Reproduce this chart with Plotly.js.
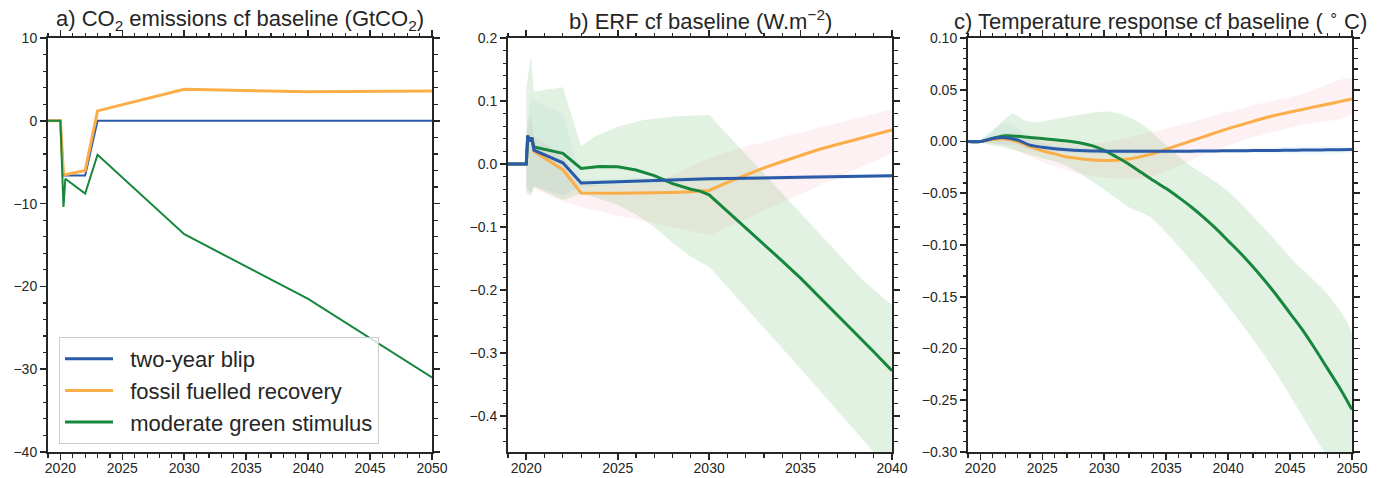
<!DOCTYPE html>
<html>
<head>
<meta charset="utf-8">
<script src="https://cdn.plot.ly/plotly-3.0.1.min.js"></script>
<style>html,body{margin:0;padding:0;background:#fff;}#chart{width:1388px;height:478px;}</style>
</head>
<body>
<div id="chart"></div>
<script>
// ---------- names ----------
const seriesNames = ["two-year blip", "fossil fuelled recovery", "moderate green stimulus"];
const panelTitles = [
  "a) CO<sub>2</sub> emissions cf baseline (GtCO<sub>2</sub>)",
  "b) ERF cf baseline (W.m<sup>−2</sup>)",
  "c) Temperature response cf baseline ( <sup>∘</sup> C)"
];

// ---------- panel a: CO2 emissions ----------
const aYears = [2019, 2020, 2020.25, 2020.4, 2022, 2023, 2030, 2040, 2050];
const aBlip   = [0, 0, -6.6, -6.6, -6.6, 0, 0, 0, 0];
const aFossil = [0, 0, -6.4, -6.5, -6.0, 1.2, 3.8, 3.5, 3.6];
const aGreen  = [0, 0, -10.4, -7.0, -8.8, -4.1, -13.7, -21.5, -31.0];

// ---------- panel b: ERF ----------
const bBlipYears = [2019, 2020, 2020.08, 2020.2, 2020.3, 2020.42, 2022, 2023, 2025, 2030, 2035, 2040];
const bBlip      = [0, 0, 0.045, 0.036, 0.042, 0.022, 0.002, -0.030, -0.028, -0.0235, -0.021, -0.0185];
const bFossilYears = [2019, 2020, 2020.08, 2020.2, 2020.3, 2020.42, 2022, 2023, 2025, 2027, 2028, 2029, 2030, 2031, 2032, 2033, 2034, 2035, 2036, 2037, 2038, 2039, 2040];
const bFossil      = [0, 0, 0.045, 0.036, 0.042, 0.020, -0.009, -0.046, -0.0465, -0.046, -0.045, -0.044, -0.042, -0.029, -0.017, -0.006, 0.004, 0.014, 0.023, 0.031, 0.039, 0.047, 0.054];
const bGreenYears = [2019, 2020, 2020.08, 2020.2, 2020.3, 2020.42, 2022, 2023, 2024, 2025, 2026, 2027, 2028, 2029, 2029.5, 2030, 2031, 2032, 2033, 2034, 2035, 2036, 2037, 2038, 2039, 2040];
const bGreen      = [0, 0, 0.045, 0.036, 0.042, 0.027, 0.017, -0.007, -0.004, -0.0045, -0.0095, -0.0185, -0.031, -0.040, -0.043, -0.049, -0.075, -0.101, -0.127, -0.154, -0.181, -0.210, -0.239, -0.268, -0.298, -0.328];

const bGreenUpYears = [2020, 2020.25, 2020.42, 2022, 2023, 2023.7, 2025, 2026.4, 2028.2, 2030, 2038.4, 2040];
const bGreenUp      = [0.12, 0.173, 0.115, 0.122, 0.0285, 0.043, 0.059, 0.070, 0.076, 0.078, -0.184, -0.224];
const bGreenLoYears = [2020, 2020.25, 2020.42, 2022, 2023, 2024, 2025, 2026, 2027, 2028, 2029, 2030, 2035, 2040];
const bGreenLo      = [-0.045, -0.05, -0.036, -0.057, -0.047, -0.055, -0.065, -0.080, -0.100, -0.125, -0.147, -0.163, -0.325, -0.49];
const bFossilBandYears = [2020, 2020.25, 2020.42, 2022, 2023, 2025, 2027, 2030, 2032, 2035, 2038, 2040];
const bFossilUp = [0.05, 0.08, 0.045, 0.012, -0.032, -0.034, -0.03, 0.009, 0.028, 0.05, 0.072, 0.087];
const bFossilLo = [-0.035, -0.05, -0.039, -0.06, -0.068, -0.082, -0.094, -0.113, -0.087, -0.048, -0.009, 0.017];
const bBlipBandYears = [2020, 2020.25, 2020.42, 2022, 2023, 2030, 2040];
const bBlipUp = [0.05, 0.105, 0.1, 0.08, -0.024, -0.020, -0.015];
const bBlipLo = [-0.04, -0.045, -0.035, -0.05, -0.036, -0.027, -0.022];

// ---------- panel c: temperature ----------
const cYears = [2019, 2020, 2021, 2022, 2023, 2024, 2025, 2026, 2027, 2028, 2029, 2030, 2031, 2032, 2033, 2034, 2035, 2036, 2037, 2038, 2039, 2040, 2041, 2042, 2043, 2044, 2045, 2046, 2047, 2048, 2049, 2050];
const cBlip   = [0, 0, 0.003, 0.0037, 0.0015, -0.0035, -0.0055, -0.007, -0.008, -0.0087, -0.0091, -0.0093, -0.0095, -0.0095, -0.0095, -0.0095, -0.0095, -0.0094, -0.0093, -0.0092, -0.0091, -0.009, -0.0089, -0.0088, -0.0087, -0.0086, -0.0085, -0.0083, -0.0082, -0.008, -0.0079, -0.0078];
const cFossil = [0, 0, 0.002, 0.0025, 0, -0.005, -0.009, -0.012, -0.015, -0.0165, -0.0178, -0.0183, -0.018, -0.017, -0.0145, -0.0115, -0.0075, -0.0035, 0.0005, 0.0045, 0.0085, 0.0125, 0.016, 0.0195, 0.023, 0.0258, 0.0285, 0.031, 0.0335, 0.036, 0.0385, 0.041];
const cGreen  = [0, 0, 0.003, 0.0055, 0.005, 0.0038, 0.0028, 0.0018, 0.0005, -0.0012, -0.004, -0.0085, -0.015, -0.022, -0.030, -0.038, -0.0455, -0.054, -0.063, -0.073, -0.084, -0.096, -0.108, -0.121, -0.135, -0.150, -0.166, -0.182, -0.200, -0.219, -0.238, -0.259];

const cGreenUpYears = [2020, 2021, 2022, 2022.6, 2023.5, 2024.2, 2026.9, 2029.5, 2030.3, 2031.7, 2033, 2033.7, 2036.4, 2039.9, 2042.6, 2045.5, 2048, 2050];
const cGreenUp      = [0, 0.01, 0.022, 0.0268, 0.021, 0.0187, 0.0235, 0.0284, 0.029, 0.0252, 0.017, 0.0106, -0.0184, -0.047, -0.0797, -0.118, -0.147, -0.186];
const cGreenLoYears = [2020, 2022, 2024.2, 2026.9, 2029.5, 2032.2, 2033.7, 2037.5, 2040.5, 2043.4, 2047.7, 2050];
const cGreenLo      = [0, -0.006, -0.0136, -0.0232, -0.0426, -0.065, -0.073, -0.122, -0.167, -0.215, -0.299, -0.34];
const cFossilBandYears = [2020, 2022, 2025, 2028, 2030, 2033.7, 2038, 2042, 2046, 2050];
const cFossilUp = [0, 0.008, 0.002, -0.002, -0.001, 0.009, 0.022, 0.035, 0.046, 0.061];
const cFossilLo = [0, -0.004, -0.02, -0.031, -0.035, -0.034, -0.013, 0.004, 0.016, 0.027];
const cBlipBandYears = [2020, 2021, 2022, 2023, 2024, 2026, 2030, 2040, 2050];
const cBlipUp = [0, 0.012, 0.018, 0.013, 0.004, -0.004, -0.007, -0.007, -0.006];
const cBlipLo = [0, -0.002, -0.003, -0.004, -0.008, -0.010, -0.012, -0.011, -0.010];

// ---------- styling ----------
const COL = {blip: "#2a5aa8", fossil: "#fbad47", green: "#17873d"};
const FILL = {blip: "rgba(80,170,200,0.08)", fossil: "rgba(250,120,140,0.10)", green: "rgba(50,165,50,0.14)"};
const FONT = "Liberation Sans, Arial, Helvetica, sans-serif";
const TXT = "#262626";
const NB = "\u00a0\u00a0";

function band(xu, yu, xl, yl, fill, xa, ya, shape) {
  return {
    x: xu.concat(xl.slice().reverse()),
    y: yu.concat(yl.slice().reverse()),
    type: "scatter", mode: "lines", fill: "toself", fillcolor: fill,
    line: {width: 0, shape: shape || "linear", smoothing: 0.8}, hoverinfo: "skip", showlegend: false, xaxis: xa, yaxis: ya
  };
}
function line(x, y, color, width, xa, ya, name, show, rank, shape) {
  return {x: x, y: y, type: "scatter", mode: "lines", name: NB + name, showlegend: show,
          legendrank: rank, line: {color: color, width: width, shape: shape || "linear", smoothing: 0.8},
          xaxis: xa, yaxis: ya};
}

const traces = [
  // panel a
  line(aYears, aBlip, COL.blip, 2, "x", "y", seriesNames[0], false, 1),
  line(aYears, aFossil, COL.fossil, 3, "x", "y", seriesNames[1], false, 2),
  line(aYears, aGreen, COL.green, 2, "x", "y", seriesNames[2], false, 3),
  // panel b bands
  band(bFossilBandYears, bFossilUp, bFossilBandYears, bFossilLo, FILL.fossil, "x2", "y2"),
  band(bBlipBandYears, bBlipUp, bBlipBandYears, bBlipLo, FILL.blip, "x2", "y2"),
  band(bGreenUpYears, bGreenUp, bGreenLoYears, bGreenLo, FILL.green, "x2", "y2"),
  line(bFossilYears, bFossil, COL.fossil, 3, "x2", "y2", seriesNames[1], true, 2),
  line(bGreenYears, bGreen, COL.green, 3, "x2", "y2", seriesNames[2], true, 3),
  line(bBlipYears, bBlip, COL.blip, 3, "x2", "y2", seriesNames[0], true, 1),
  // panel c bands
  band(cFossilBandYears, cFossilUp, cFossilBandYears, cFossilLo, FILL.fossil, "x3", "y3", "spline"),
  band(cBlipBandYears, cBlipUp, cBlipBandYears, cBlipLo, FILL.blip, "x3", "y3", "spline"),
  band(cGreenUpYears, cGreenUp, cGreenLoYears, cGreenLo, FILL.green, "x3", "y3", "spline"),
  line(cYears, cFossil, COL.fossil, 3, "x3", "y3", seriesNames[1], false, 2, "spline"),
  line(cYears, cGreen, COL.green, 3, "x3", "y3", seriesNames[2], false, 3, "spline"),
  line(cYears, cBlip, COL.blip, 3, "x3", "y3", seriesNames[0], false, 1, "spline")
];

const W = 1388, H = 478;
const yDom = [(H - 452) / H, (H - 38) / H];
const doms = [[48 / W, 432 / W], [508 / W, 892 / W], [968 / W, 1352 / W]];

function xax(dom, range, anchor) {
  return {
    domain: dom, range: range, anchor: anchor,
    showline: true, linecolor: TXT, linewidth: 2, mirror: "allticks",
    ticks: "outside", ticklen: 6, tickwidth: 1.6, tickcolor: TXT,
    tick0: 2020, dtick: 5, showgrid: false, zeroline: false,
    ticklabelstandoff: -4,
    tickfont: {family: FONT, size: 14, color: TXT},
    minor: {ticks: "outside", ticklen: 3.5, tickwidth: 1.2, tickcolor: TXT, dtick: 1, tick0: 2020, showgrid: false}
  };
}
function yax(dom, range, anchor, dtick, mdtick, fmt) {
  return {
    domain: dom, range: range, anchor: anchor,
    showline: true, linecolor: TXT, linewidth: 2, mirror: "allticks",
    ticks: "outside", ticklen: 6, tickwidth: 1.6, tickcolor: TXT,
    tick0: 0, dtick: dtick, tickformat: fmt, showgrid: false, zeroline: false,
    tickfont: {family: FONT, size: 14, color: TXT},
    minor: {ticks: "outside", ticklen: 3.5, tickwidth: 1.2, tickcolor: TXT, dtick: mdtick, tick0: 0, showgrid: false}
  };
}

const annotations = panelTitles.map((t, i) => ({
  text: t, xref: "paper", yref: "paper",
  x: (doms[i][0] + doms[i][1]) / 2, y: yDom[1], xanchor: "center", yanchor: "bottom",
  yshift: 2, showarrow: false, font: {family: FONT, size: 22, color: TXT}
}));

const layout = {
  width: W, height: H,
  margin: {l: 0, r: 0, t: 0, b: 0},
  paper_bgcolor: "#fff", plot_bgcolor: "#fff",
  showlegend: true,
  font: {family: FONT, color: TXT},
  xaxis: xax(doms[0], [2019, 2050], "y"),
  yaxis: yax(yDom, [-40, 10], "x", 10, 2, "d"),
  xaxis2: xax(doms[1], [2019, 2040], "y2"),
  yaxis2: yax(yDom, [-0.457, 0.2], "x2", 0.1, 0.02, ".1f"),
  xaxis3: xax(doms[2], [2019, 2050], "y3"),
  yaxis3: yax(yDom, [-0.3, 0.1], "x3", 0.05, 0.01, ".2f"),
  annotations: annotations,
  legend: {
    x: 59 / W, y: (H - 337) / H, xanchor: "left", yanchor: "top",
    bgcolor: "rgba(255,255,255,0.8)", bordercolor: "#cccccc", borderwidth: 1,
    font: {family: FONT, size: 22, color: TXT}, itemwidth: 48, tracegroupgap: 0,
    traceorder: "normal"
  }
};

Plotly.newPlot("chart", traces, layout, {staticPlot: true, displayModeBar: false});
</script>
</body>
</html>
